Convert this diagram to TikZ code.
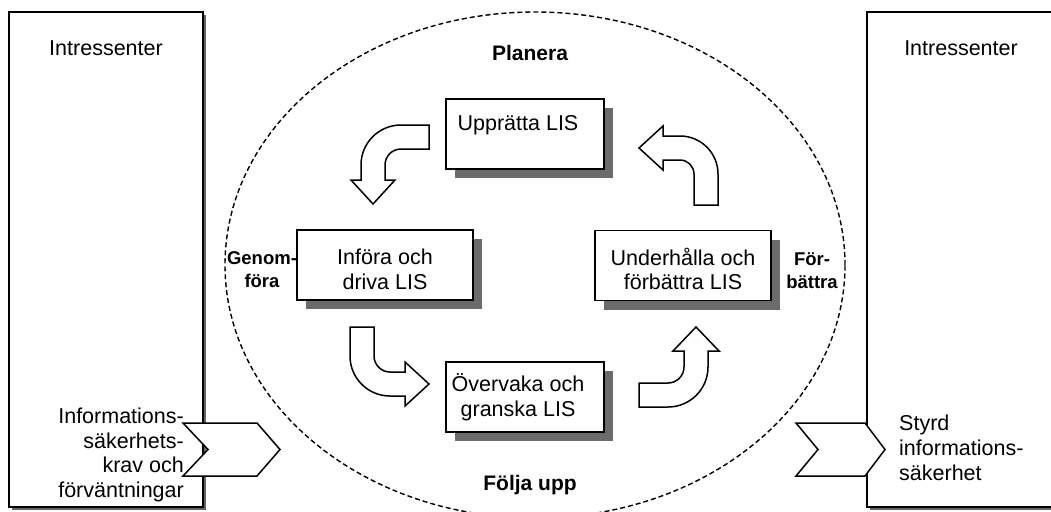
\documentclass[tikz,border=0pt]{standalone}
\usepackage{fontspec}
\setmainfont{Liberation Sans}
\usetikzlibrary{shadows}
\newcommand\txtA{\fontsize{21.5pt}{24.7pt}\selectfont}
\newcommand\txtB{\fontsize{21pt}{24.7pt}\selectfont\bfseries}
\newcommand\txtC{\fontsize{18.5pt}{23pt}\selectfont\bfseries}
\begin{document}
\begin{tikzpicture}[x=1pt,y=-1pt,
  bigbox/.style={draw, line width=1.5pt, fill=white, minimum width=194pt, minimum height=495pt, inner sep=0pt,
    drop shadow={shadow xshift=3pt, shadow yshift=-3pt, fill=black!60, opacity=1}},
  proc/.style={draw, line width=1.5pt, fill=white, minimum height=70pt, inner sep=0pt,
    drop shadow={shadow xshift=9pt, shadow yshift=-9pt, fill=black!58, opacity=1}},
  txt/.style={font=\txtA, inner sep=0pt, align=center},
  phase/.style={font=\txtB, inner sep=0pt, align=center},
  side/.style={font=\txtC, inner sep=0pt, align=center},
  blockarrow/.style={draw, line width=1.5pt, fill=white, line join=miter},
  chev/.style={draw, line width=1.5pt, fill=white, line join=miter},
  loopline/.style={draw, dash pattern=on 5pt off 3pt, line width=1.4pt}
]
\useasboundingbox (0,0) rectangle (1051,511);
\clip (0,0) rectangle (1051,511);
\fill[white] (0,0) rectangle (1051,511);

% dashed cycle ellipse
\draw[loopline] (535,265) ellipse [x radius=310pt, y radius=253pt];

% phase labels
\node[phase] (plan) at (530,53) {Planera};
\node[phase] (folj) at (530,485) {Följa upp};
\node[side] (gen) at (262,270) {Genom-\\föra};
\node[side] (forb) at (812,271) {För-\\bättra};

% stakeholder boxes
\node[bigbox] (lbox) at (106,259.5) {};
\node[bigbox] (rbox) at (964,259.5) {};
\node[txt] (lt) at (106,48) {Intressenter};
\node[txt] (rt) at (961,48) {Intressenter};
\node[txt, align=right, anchor=east] (lin) at (184,455) {Informations-\\säkerhets-\\krav och\\förväntningar};
\node[txt, align=left, anchor=west] (rout) at (899,448) {Styrd\\informations-\\säkerhet};

% process boxes
\node[proc, minimum width=158pt] (upp) at (525,134) {};
\node[txt] (uppt) at (518,125) {Upprätta LIS};
\node[proc, minimum width=176pt] (inf) at (385,265) {};
\node[txt] (inft) at (385,269) {Införa och\\driva LIS};
\node[proc, minimum width=176pt] (und) at (683,265.5) {};
\node[txt] (undt) at (683,269) {Underhålla och\\förbättra LIS};
\node[proc, minimum width=158pt] (ove) at (525,397) {};
\node[txt] (ovet) at (518,397.5) {Övervaka och\\granska LIS};

% block arrows
% Upprätta -> Införa (pointing down)
\draw[blockarrow] (429,125) -- (401,125)
  .. controls (378.9,125) and (361,142.9) .. (361,165)
  -- (361,180) -- (351,180) -- (373,204) -- (395,180) -- (385,180) -- (385,165)
  .. controls (385,156.2) and (392.2,149) .. (401,149)
  -- (429,149) -- cycle;
% Underhålla -> Upprätta (pointing left)
\draw[blockarrow] (694,205) -- (694,174)
  .. controls (694,166.3) and (687.7,160) .. (680,160)
  -- (663,160) -- (663,170) -- (639,148) -- (663,126) -- (663,136) -- (680,136)
  .. controls (701,136) and (718,153) .. (718,174)
  -- (718,205) -- cycle;
% Införa -> Övervaka (pointing right)
\draw[blockarrow] (350,327) -- (350,356)
  .. controls (350,378.1) and (367.9,396) .. (390,396)
  -- (405,396) -- (405,406) -- (429,384) -- (405,362) -- (405,372) -- (390,372)
  .. controls (381.2,372) and (374,364.8) .. (374,356)
  -- (374,327) -- cycle;
% Övervaka -> Underhålla (pointing up)
\draw[blockarrow] (639,383) -- (668,383)
  .. controls (676.8,383) and (684,375.8) .. (684,367)
  -- (684,351) -- (673,351) -- (696,327) -- (719,351) -- (708,351) -- (708,367)
  .. controls (708,389.1) and (690.1,407) .. (668,407)
  -- (639,407) -- cycle;

% chevrons (input / output)
\draw[chev] (183,423) -- (257,423) -- (280,449.5) -- (257,476) -- (183,476) -- (208,449.5) -- cycle;
\draw[chev] (796,423) -- (865,423) -- (885,449.5) -- (865,476) -- (796,476) -- (818,449.5) -- cycle;
\end{tikzpicture}
\end{document}
